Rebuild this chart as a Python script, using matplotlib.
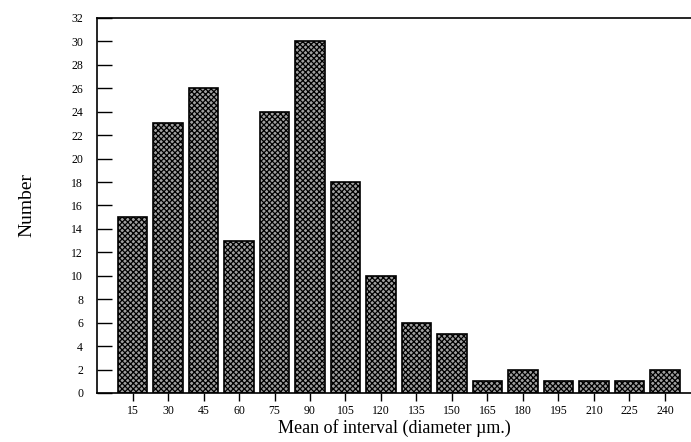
import matplotlib.pyplot as plt

plt.rcParams['font.family'] = ['Liberation Serif', 'DejaVu Serif']
plt.rcParams['hatch.linewidth'] = 0.9

diameters = [15, 30, 45, 60, 75, 90, 105, 120, 135, 150, 165, 180, 195, 210, 225, 240]
counts = [15, 23, 26, 13, 24, 30, 18, 10, 6, 5, 1, 2, 1, 1, 1, 2]
yticks = list(range(0, 33, 2))

fig = plt.figure(figsize=(6.91, 4.42), dpi=100)
ax = fig.add_axes([0.1404, 0.1109, 0.8596, 0.8484])

ax.bar(diameters, counts, width=12.3, color='#a0a0a0', edgecolor='black',
       hatch='xxxxxx', linewidth=1.2)

ax.set_xlim(0, 251)
ax.set_ylim(0, 32)
ax.set_xticks(diameters)
ax.set_yticks(yticks)
ax.tick_params(axis='y', direction='in', length=11, width=1, labelsize=8.5, pad=10)
ax.tick_params(axis='x', direction='out', length=6, width=1, labelsize=8.5, pad=3)
ax.spines['right'].set_visible(False)
for s in ['left', 'top', 'bottom']:
    ax.spines[s].set_linewidth(1.2)

ax.set_ylabel('Number', fontsize=14, labelpad=26)
ax.set_xlabel('Mean of interval (diameter µm.)', fontsize=13, labelpad=1)

fig.savefig('out.png', dpi=100)
